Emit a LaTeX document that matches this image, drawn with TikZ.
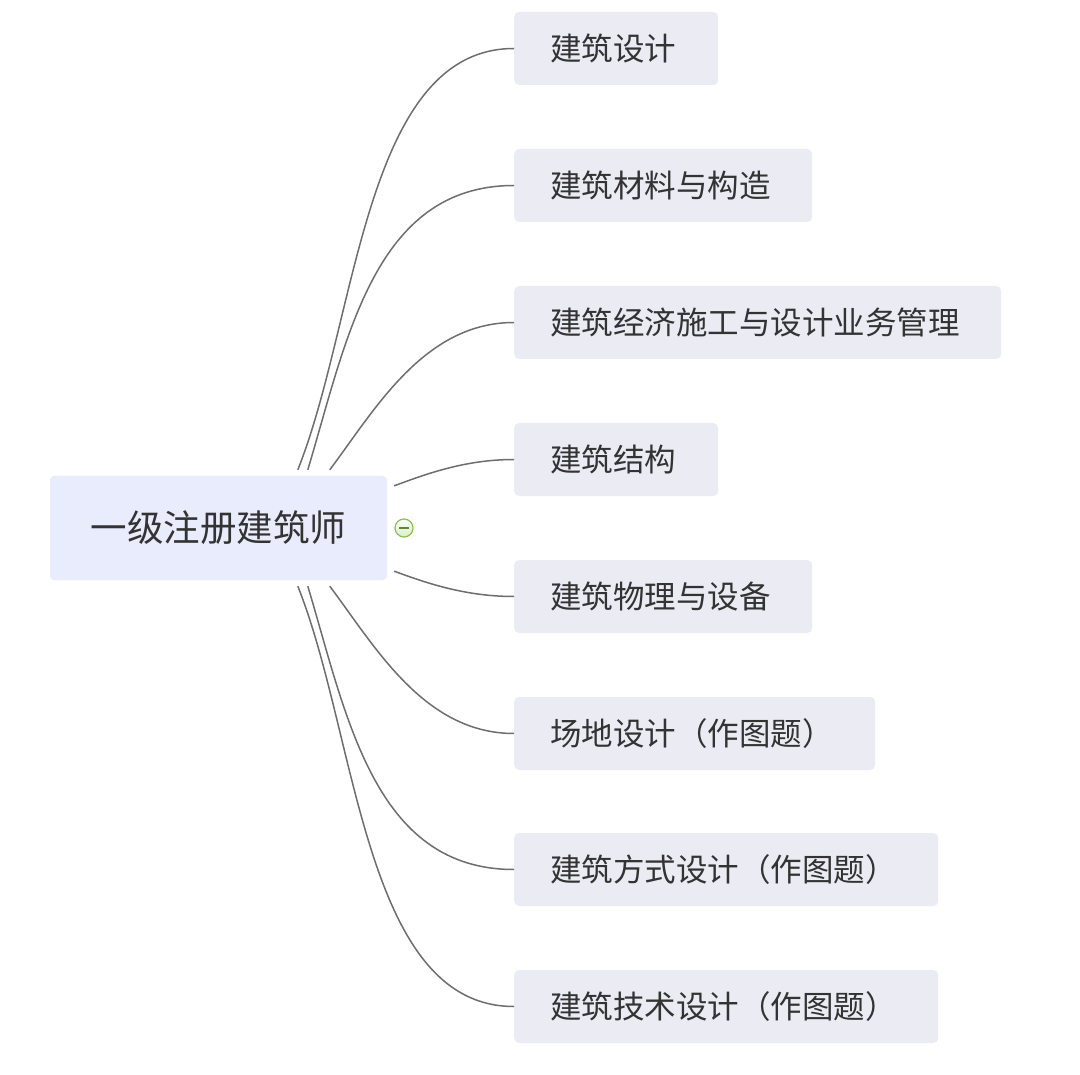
\documentclass[tikz,border=0pt]{standalone}
\usepackage{fontspec}
\setmainfont{Noto Sans CJK SC}
\usetikzlibrary{calc}
\definecolor{rootfill}{HTML}{E8ECFD}
\definecolor{childfill}{HTML}{EBEBF3}
\definecolor{textcol}{HTML}{333333}
\definecolor{linecol}{HTML}{6E6E6E}
\definecolor{toggreen}{HTML}{8CC152}
\definecolor{togfill}{HTML}{D9EFC4}
\begin{document}
\begin{tikzpicture}[x=1pt,y=-1pt,
  rootbox/.style={fill=rootfill, rounded corners=4pt, minimum width=337pt, minimum height=104pt,
    inner sep=0pt, text=textcol, text height=31.5pt, text depth=4pt,
    font=\fontsize{36.5}{40}\selectfont},
  childbox/.style={anchor=west, fill=childfill, rounded corners=5pt, minimum height=73pt,
    inner xsep=36pt, inner ysep=0pt, align=left, text=textcol, text height=27pt, text depth=3.5pt,
    font=\fontsize{31.5}{36}\selectfont},
  conn/.style={draw=linecol, line width=1.5pt},
  toggle/.style={circle, draw=toggreen, line width=1.2pt, minimum size=18pt, inner sep=0pt,
    top color=white, bottom color=togfill}
]
\fill[white] (0,0) rectangle (1080,1075);
\useasboundingbox (0,0) rectangle (1080,1075);

\node[rootbox] (root) at (218.5,528) {一级注册建筑师};

\node[childbox, text width=132pt] (c1) at (514,48.5)  {建筑设计};
\node[childbox, text width=226pt] (c2) at (514,185.5) {建筑材料与构造};
\node[childbox, text width=415pt] (c3) at (514,322.5) {建筑经济施工与设计业务管理};
\node[childbox, text width=132pt] (c4) at (514,459.5) {建筑结构};
\node[childbox, text width=226pt] (c5) at (514,596.5) {建筑物理与设备};
\node[childbox, text width=289pt] (c6) at (514,733.5) {场地设计（作图题）};
\node[childbox, text width=352pt] (c7) at (514,869.5) {建筑方式设计（作图题）};
\node[childbox, text width=352pt] (c8) at (514,1006.5) {建筑技术设计（作图题）};

\coordinate (s1) at ($(root.north west)+(248,-6)$);
\coordinate (s2) at ($(root.north west)+(258,-6)$);
\coordinate (s3) at ($(root.north west)+(280,-6)$);
\coordinate (s4) at ($(root.north east)+(7,10)$);
\coordinate (s5) at ($(root.south east)+(7,-9)$);
\coordinate (s6) at ($(root.south west)+(280,6)$);
\coordinate (s7) at ($(root.south west)+(258,6)$);
\coordinate (s8) at ($(root.south west)+(248,6)$);

\draw[conn] (s1) .. controls +(60,-150) and +(-150,0) .. (c1.west);
\draw[conn] (s2) .. controls +(39,-130) and +(-140,0) .. (c2.west);
\draw[conn] (s3) .. controls +(45,-60) and +(-90,0) .. (c3.west);
\draw[conn] (s4) .. controls +(30,-11) and +(-50,0) .. (c4.west);
\draw[conn] (s5) .. controls +(30,11) and +(-50,0) .. (c5.west);
\draw[conn] (s6) .. controls +(45,60) and +(-90,0) .. (c6.west);
\draw[conn] (s7) .. controls +(39,130) and +(-140,0) .. (c7.west);
\draw[conn] (s8) .. controls +(60,150) and +(-150,0) .. (c8.west);

\node[toggle] (tog) at (404,528) {};
\draw[draw=toggreen!70!black, line width=1.3pt] ($(tog.center)+(-5,0)$) -- ($(tog.center)+(5,0)$);
\end{tikzpicture}
\end{document}
